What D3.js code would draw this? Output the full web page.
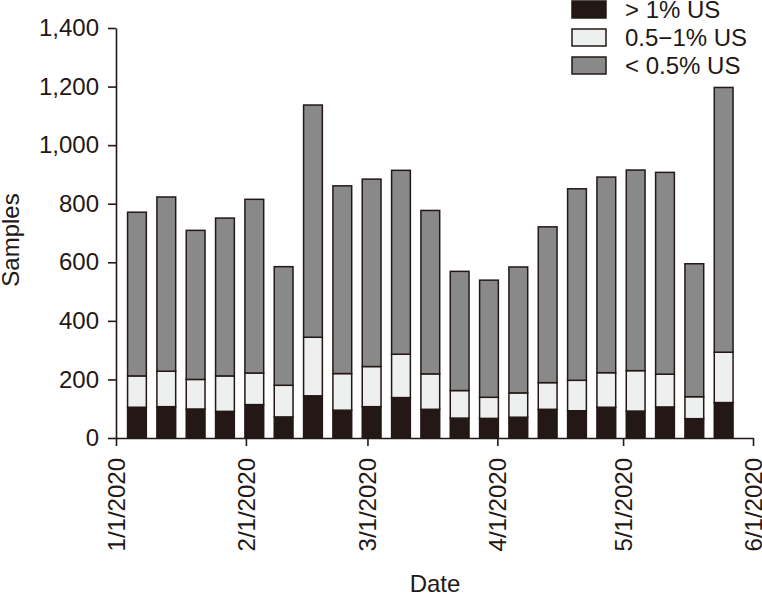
<!DOCTYPE html>
<html>
<head>
<meta charset="utf-8">
<script src="https://cdn.jsdelivr.net/npm/d3@7"></script>
<style>
  body { margin: 0; background: #fff; }
  text { font-family: "Liberation Sans", Arial, Helvetica, sans-serif; fill: #231815; }
  .axis path, .axis line { stroke: #231815; stroke-width: 1.6px; }
</style>
</head>
<body>
<div id="chart"></div>
<script>
const width = 762
const height = 596
const margin = {top: 28, right: 9, bottom: 158, left: 116}
const chartWidth = width - margin.left - margin.right
const chartHeight = height - margin.top - margin.bottom

// weekly samples (week dates), split by share of US
const weeks = ['2020-01-06', '2020-01-13', '2020-01-20', '2020-01-27', '2020-02-03', '2020-02-10',
  '2020-02-17', '2020-02-24', '2020-03-02', '2020-03-09', '2020-03-16', '2020-03-23', '2020-03-30',
  '2020-04-06', '2020-04-13', '2020-04-20', '2020-04-27', '2020-05-04', '2020-05-11', '2020-05-18',
  '2020-05-25']
const high = [105, 107, 99, 91, 114, 72, 144, 95, 107, 138, 98, 68, 67, 71, 98, 93, 105, 92, 106, 66, 121]
const mid = [107, 121, 101, 121, 108, 108, 200, 125, 137, 148, 121, 94, 72, 83, 91, 104, 118, 138, 112, 75, 172]
const low = [559, 595, 509, 539, 593, 405, 793, 641, 640, 628, 558, 407, 400, 430, 532, 654, 668, 685, 689, 454, 904]

const keys = ['high', 'mid', 'low']
const labels = ['> 1% US', '0.5\u22121% US', '< 0.5% US']
const colors = ['#231815', '#eef0ef', '#898989']
const yTicks = [0, 200, 400, 600, 800, 1000, 1200, 1400]
const xTicks = ['2020-01-01', '2020-02-01', '2020-03-01', '2020-04-01', '2020-05-01', '2020-06-01']

const parseDate = d3.timeParse('%Y-%m-%d')
const formatTime = d3.timeFormat('%-m/%-d/%Y')

const data = weeks.map((w, i) => ({date: parseDate(w), high: high[i], mid: mid[i], low: low[i]}))

const x = d3.scaleTime()
  .domain([parseDate(xTicks[0]), parseDate(xTicks[xTicks.length - 1])])
  .range([0, chartWidth])

const y = d3.scaleLinear()
  .domain([0, 1400])
  .range([chartHeight, 0])

const svg = d3.select('#chart').append('svg')
  .attr('width', width)
  .attr('height', height)

const g = svg.append('g')
  .attr('transform', `translate(${margin.left}, ${margin.top})`)

const stacked = d3.stack().keys(keys)(data)
const step = x(d3.timeDay.offset(data[0].date, 7)) - x(data[0].date)
const barWidth = step * 0.64

g.append('g').attr('class', 'bars')
  .selectAll('g')
  .data(stacked)
  .enter()
  .append('g')
  .attr('fill', (d, i) => colors[i])
  .selectAll('rect')
  .data(d => d)
  .enter()
  .append('rect')
  .attr('x', d => x(d.data.date) - barWidth / 2)
  .attr('y', d => y(d[1]))
  .attr('width', barWidth)
  .attr('height', d => y(d[0]) - y(d[1]))
  .attr('stroke', '#231815')
  .attr('stroke-width', 1.5)

const yAxis = g.append('g').attr('class', 'axis')
  .call(d3.axisLeft(y).tickValues(yTicks).tickFormat(d3.format(',')).tickSize(8).tickSizeOuter(0))

yAxis.selectAll('.tick text')
  .attr('x', -17)
  .style('font-size', '24px')

const xAxis = g.append('g').attr('class', 'axis')
  .attr('transform', `translate(0, ${chartHeight})`)
  .call(d3.axisBottom(x).tickValues(xTicks.map(parseDate)).tickFormat(formatTime).tickSize(8).tickSizeOuter(0))

xAxis.selectAll('.tick text')
  .attr('transform', 'rotate(-90)')
  .attr('text-anchor', 'end')
  .attr('x', -20)
  .attr('y', 0)
  .attr('dy', '0.35em')
  .style('font-size', '24px')

svg.append('text')
  .attr('transform', 'translate(19, 240) rotate(-90)')
  .attr('text-anchor', 'middle')
  .style('font-size', '24px')
  .text('Samples')

svg.append('text')
  .attr('x', 435)
  .attr('y', 592)
  .attr('text-anchor', 'middle')
  .style('font-size', '24px')
  .text('Date')

const legend = svg.append('g')
  .attr('transform', 'translate(572, 1)')

labels.forEach((label, i) => {
  legend.append('rect')
    .attr('x', 0)
    .attr('y', i * 28)
    .attr('width', 34)
    .attr('height', 17)
    .attr('fill', colors[i])
    .attr('stroke', '#231815')
    .attr('stroke-width', 1.5)
  legend.append('text')
    .attr('x', 53)
    .attr('y', i * 28 + 17)
    .style('font-size', '24px')
    .text(label)
})
</script>
</body>
</html>
